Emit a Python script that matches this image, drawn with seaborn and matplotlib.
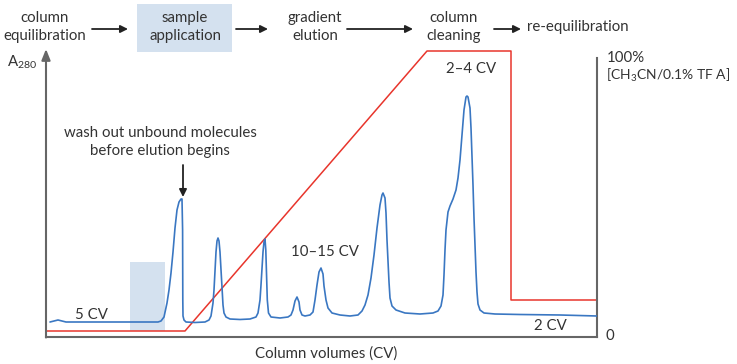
import matplotlib
matplotlib.use("Agg")
import matplotlib.pyplot as plt
import seaborn as sns
import pandas as pd
from matplotlib.patches import Rectangle, FancyArrowPatch

sns.set_theme(style="white")
plt.rcParams["font.family"] = ["Lato", "DejaVu Sans"]
plt.rcParams["mathtext.default"] = "regular"

# Chromatogram trace: elution position vs. absorbance at 280 nm (plot units)
trace_x = [4, 8, 12, 16, 20, 34, 74, 104, 112, 115, 118, 121, 123, 125, 127, 129, 131,
           133, 135, 136, 136.6, 136.8, 137, 138, 140, 149, 159, 163, 165, 167, 168,
           169, 170, 171, 172, 173, 174, 175, 176, 177, 178, 180, 184, 194, 204, 210,
           212, 214, 215, 216, 217, 218, 219, 219.8, 220.5, 221.3, 222.5, 225, 234,
           242, 245, 247, 249, 251, 253, 254, 256, 259, 264, 267, 269, 271, 273, 275,
           277, 278, 280, 282, 286, 294, 304, 312, 316, 319, 322, 325, 328, 331, 334,
           336, 337, 339, 340, 341, 342, 343, 344, 346, 350, 359, 374, 387, 392, 395, 397,
           398, 399, 400, 402, 404, 407, 410, 412, 414, 416, 418, 420, 421, 422, 424,
           425, 426, 427, 428, 429, 430, 431, 432, 434, 438, 449, 474, 514, 551]
trace_y = [15, 16, 17, 16, 15, 15, 15, 15, 15, 16, 20, 34, 47, 64, 85, 109, 127,
           135, 138, 138, 107, 37, 21, 17, 15, 14.5, 15, 17, 21, 34, 47, 67, 85, 96,
           99, 96, 85, 67, 47, 32, 24, 20, 18, 17.5, 18, 20, 24, 37, 52, 69, 85, 95,
           98, 87, 62, 37, 24, 20, 19, 20, 22, 27, 36, 40, 35, 27, 22, 21, 22, 25, 37,
           52, 65, 69, 63, 51, 37, 29, 24, 22, 21, 22, 26, 32, 42, 59, 82, 109, 132,
           142, 144, 139, 124, 97, 75, 55, 39, 31, 27, 24, 23, 24, 26, 31, 42, 62, 87, 107,
           125, 131, 138, 147, 159, 177, 202, 227, 240, 241, 240, 229, 209, 182, 152,
           119, 92, 65, 45, 33, 27, 24, 23, 22.5, 22, 21]

# Solvent gradient programme (plot units)
grad_x = [0, 139, 381, 465, 465, 551]
grad_y = [6, 6, 286, 286, 37, 37]

# Sample application window on the elution axis
sample_window = [84, 119]
sample_height = 69

stages = ["column\nequilibration", "sample\napplication", "gradient\nelution",
          "column\ncleaning", "re-equilibration"]

W, H = 737, 364
FS = 10.8
fig = plt.figure(figsize=(W / 100, H / 100), dpi=100)
ax = fig.add_axes([46 / W, (H - 337) / H, 551 / W, 289 / H])


def fx(px):
    return px / W


def fy(py):
    return 1 - py / H


txt = "#333333"
spine = "#666666"

ax.add_patch(Rectangle((sample_window[0], 6), sample_window[1] - sample_window[0],
                       sample_height, facecolor="#d4e1ef", edgecolor="none", zorder=1))

trace = pd.DataFrame({"x": trace_x, "y": trace_y})
grad = pd.DataFrame({"x": grad_x, "y": grad_y})
sns.lineplot(data=grad, x="x", y="y", sort=False, estimator=None, ax=ax,
             color="#e8352c", lw=1.1, zorder=2, clip_on=False)
sns.lineplot(data=trace, x="x", y="y", sort=False, estimator=None, ax=ax,
             color="#3a77c2", lw=1.2, zorder=3)

ax.set_xlim(0, 551)
ax.set_ylim(0, 289)
ax.set_xticks([])
ax.set_yticks([])
ax.set_xlabel("")
ax.set_ylabel("")
for s in ["top", "left"]:
    ax.spines[s].set_visible(False)
for s in ["bottom", "right"]:
    ax.spines[s].set_color(spine)
    ax.spines[s].set_linewidth(1.5)
ax.spines["right"].set_bounds(0, 279)

# absorbance axis drawn as an arrow
ax.annotate("", xy=(0, 288), xytext=(0, -0.5),
            arrowprops=dict(arrowstyle="-|>,head_length=0.5,head_width=0.2", color=spine,
                            lw=1.5, mutation_scale=13, shrinkA=0, shrinkB=0),
            annotation_clip=False)

# in-plot labels
ax.text(45, 22, "5 CV", ha="center", va="center", color=txt, fontsize=FS)
ax.text(279, 85, "10–15 CV", ha="center", va="center", color=txt, fontsize=FS)
ax.text(425, 268, "2–4 CV", ha="center", va="center", color=txt, fontsize=FS)
ax.text(504, 11, "2 CV", ha="center", va="center", color=txt, fontsize=FS)
ax.text(114, 195, "wash out unbound molecules\nbefore elution begins", ha="center",
        va="center", color=txt, fontsize=FS, linespacing=1.3)
ax.annotate("", xy=(137, 140), xytext=(137, 172),
            arrowprops=dict(arrowstyle="-|>", color="#222222", lw=1.3,
                            mutation_scale=11, shrinkA=0, shrinkB=0))

# axis captions
fig.text(fx(326), fy(354), "Column volumes (CV)", ha="center", va="center",
         color=txt, fontsize=FS)
fig.text(fx(7), fy(62), "A$_{280}$", ha="left", va="center", color=txt, fontsize=FS)
fig.text(fx(607), fy(58), "100%", ha="left", va="center", color=txt, fontsize=FS)
fig.text(fx(606), fy(75), "[CH$_3$CN/0.1% TF A]", ha="left", va="center",
         color=txt, fontsize=10)
fig.text(fx(605), fy(336), "0", ha="left", va="center", color=txt, fontsize=FS)

# workflow header
fig.patches.append(Rectangle((fx(137), fy(52)), 95 / W, 48 / H, transform=fig.transFigure,
                             facecolor="#d4e1ef", edgecolor="none", zorder=0))
stage_x = [45, 185, 315, 454]
for label, px in zip(stages[:4], stage_x):
    fig.text(fx(px), fy(27), label, ha="center", va="center", color=txt,
             fontsize=FS, linespacing=1.3)
fig.text(fx(527), fy(27), stages[4], ha="left", va="center", color=txt, fontsize=FS)

for x0, x1 in [(92, 128), (236, 268), (347, 413), (494, 521)]:
    fig.add_artist(FancyArrowPatch(
        (fx(x0), fy(29)), (fx(x1), fy(29)), transform=fig.transFigure,
        arrowstyle="-|>", color="#222222", lw=1.3, mutation_scale=11,
        shrinkA=0, shrinkB=0))

fig.savefig("out.png", dpi=100)
